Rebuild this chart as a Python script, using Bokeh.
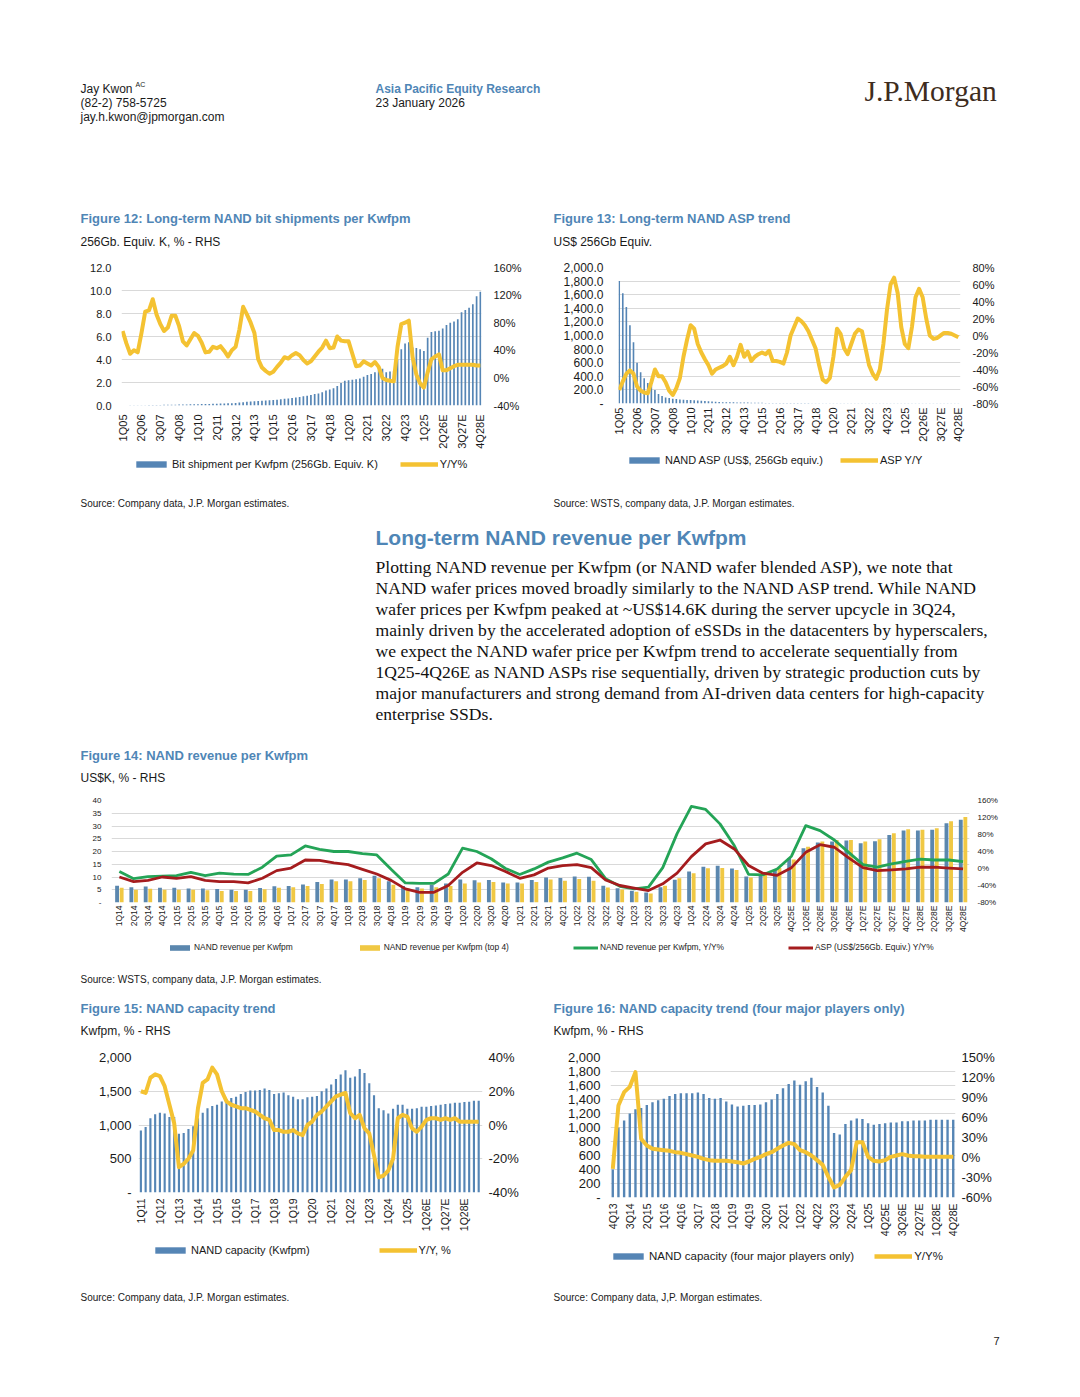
import math
from bokeh.plotting import figure
from bokeh.models import Range1d, LinearAxis, FixedTicker, Legend, LegendItem, Label
from bokeh.layouts import column, row
from bokeh.embed import file_html
from bokeh.resources import INLINE

SANS = "Liberation Sans"
SERIF = "Liberation Serif"
TITLE_BLUE = "#4F86B6"
BAR_BLUE = "#5585B5"
YELLOW = "#F4C232"
GRID = "#D9D9D9"
INK = "#1A1A1A"
F14_BLUE = "#5B87AE"
F14_YELLOW = "#F0C844"
F14_GREEN = "#24A457"
F14_RED = "#A51C1E"
YOY_WIDTH = 4
F14_WIDTH = 2.8


def quarter_labels(first_year, first_q, n):
    out, y, q = [], first_year, first_q
    for _ in range(n):
        est = y > 2025 or (y == 2025 and q == 4)
        out.append(f"{q}Q{y % 100:02d}" + ("E" if est else ""))
        q += 1
        if q == 5:
            q, y = 1, y + 1
    return out


# ---------------- Figure 12 data ----------------
f12_quarters = quarter_labels(2005, 1, 96)
f12_bits = [0.01, 0.01, 0.02, 0.02, 0.02, 0.03, 0.03, 0.04, 0.04, 0.05, 0.05, 0.06,
            0.06, 0.07, 0.07, 0.08, 0.08, 0.09, 0.10, 0.10, 0.11, 0.12, 0.13, 0.14,
            0.15, 0.16, 0.17, 0.18, 0.19, 0.20, 0.22, 0.26, 0.29, 0.32, 0.35, 0.38,
            0.40, 0.42, 0.44, 0.46, 0.48, 0.50, 0.54, 0.58, 0.60, 0.65, 0.70, 0.75,
            0.80, 0.85, 0.92, 1.00, 1.05, 1.15, 1.30, 1.40, 1.50, 1.70, 1.95, 2.15,
            2.20, 2.25, 2.28, 2.35, 2.50, 2.65, 2.75, 2.90, 3.10, 3.20, 2.90, 2.95,
            3.00, 4.00, 4.90, 5.40, 5.50, 5.05, 5.00, 4.90, 4.75, 5.90, 6.40, 6.45,
            6.50, 6.70, 7.00, 7.20, 7.30, 7.50, 8.10, 8.30, 8.50, 8.80, 9.50, 9.90]
f12_yoy = [68, 50, 35, 40, 37, 65, 96, 98, 114, 92, 78, 68, 73, 90, 90, 75, 53, 47, 56, 65,
           61, 51, 37, 38, 45, 43, 46, 39, 31, 40, 45, 70, 103, 92, 80, 65, 27, 15, 10, 6,
           9, 16, 22, 30, 28, 33, 36, 33, 26, 21, 24, 31, 38, 44, 54, 43, 44, 60, 54, 53,
           53, 35, 17, 18, 24, 21, 18, 23, 16, 0, -3, -4, -5, 45, 78, 80, 83, 30, 5, -8,
           -14, 8, 27, 31, 34, 11, 11, 14, 17, 19, 19, 19, 19, 19, 18, 18]
f12_left_ticks = [0, 2, 4, 6, 8, 10, 12]
f12_left_labels = ["0.0", "2.0", "4.0", "6.0", "8.0", "10.0", "12.0"]
f12_right_ticks = [-40, 0, 40, 80, 120, 160]
f12_right_labels = ["-40%", "0%", "40%", "80%", "120%", "160%"]

# ---------------- Figure 13 data ----------------
f13_quarters = quarter_labels(2005, 1, 96)
f13_asp = [1800, 1620, 1420, 1150, 900, 600, 460, 370, 300, 270, 200, 140, 110, 90, 80, 70,
           65, 60, 55, 52, 50, 48, 44, 40, 36, 32, 28, 25, 22, 20, 19, 18, 17, 16, 15, 14,
           13, 12, 11, 10, 10, 9, 9, 8, 7, 7, 6, 6, 6, 6, 6, 6, 6, 6, 5, 5, 4, 4, 3, 3,
           3, 3, 3, 3, 3, 3, 3, 3, 2, 2, 2, 2, 2, 2, 2, 2, 3, 3, 3, 3, 2, 2, 3, 3,
           4, 4, 4, 4, 4, 4, 4, 4, 4, 4, 4, 4]
f13_yoy = [-64, -54, -45, -41, -45, -60, -65, -67, -68, -55, -40, -48, -48, -55, -65, -70, -62, -50, -25, -5,
           12, 8, -10, -20, -28, -35, -45, -40, -38, -36, -33, -25, -35, -25, -11, -25, -19, -30, -25, -22,
           -20, -22, -18, -30, -30, -31, -33, -20, 0, 10, 20, 17, 12, 5, -5, -15, -35, -52, -55, -50,
           -25, 8, 2, -15, -22, -10, 2, 7, 5, -15, -35, -45, -51, -40, -10, 30, 60, 68, 50, 10,
           -10, -15, 10, 45, 55, 45, 20, 0, -4, -3, 0, 3, 3, 2, 0, -2]
f13_left_ticks = [0, 200, 400, 600, 800, 1000, 1200, 1400, 1600, 1800, 2000]
f13_left_labels = ["-", "200.0", "400.0", "600.0", "800.0", "1,000.0", "1,200.0",
                   "1,400.0", "1,600.0", "1,800.0", "2,000.0"]
f13_right_ticks = [-80, -60, -40, -20, 0, 20, 40, 60, 80]
f13_right_labels = ["-80%", "-60%", "-40%", "-20%", "0%", "20%", "40%", "60%", "80%"]

# ---------------- Figure 14 data ----------------
f14_quarters = quarter_labels(2014, 1, 60)
f14_rev = [6.6, 6.0, 6.3, 5.8, 5.8, 5.5, 5.5, 5.3, 5.0, 5.0, 5.7, 6.4, 6.5, 7.1, 8.0, 9.0,
           9.0, 9.5, 10.5, 8.3, 6.5, 6.0, 7.0, 7.5, 9.0, 8.7, 8.8, 7.8, 7.8, 8.8, 9.8, 9.6,
           10.2, 10.1, 6.6, 5.6, 4.6, 3.9, 6.0, 8.9, 12.2, 14.0, 14.4, 13.3, 10.2, 10.5, 12.7, 17.5,
           21.3, 23.5, 23.9, 24.3, 23.2, 24.0, 26.5, 28.2, 28.2, 28.5, 31.1, 32.5]
f14_rev_top4 = [5.8, 5.0, 5.4, 5.0, 5.0, 5.0, 4.8, 4.5, 4.5, 4.5, 5.2, 5.8, 6.0, 6.5, 7.3, 8.3,
                8.3, 8.8, 9.5, 7.0, 5.5, 5.5, 6.0, 6.5, 7.5, 7.8, 8.0, 7.5, 7.5, 8.0, 9.0, 8.5,
                9.2, 8.5, 5.9, 5.1, 4.2, 3.5, 6.6, 9.5, 11.5, 13.4, 13.5, 12.7, 9.8, 11.8, 13.5, 16.9,
                21.9, 23.9, 24.5, 24.5, 23.9, 24.8, 27.2, 28.7, 28.5, 29.1, 31.9, 33.5]
f14_rev_yoy = [-7, -24, -19, -18, -17, -9, -17, -11, -13, -14, 3, 29, 32, 53, 45, 40,
               40, 35, 32, -2, -34, -35, -35, -13, 48, 40, 23, 0, -14, -1, 15, 25,
               36, 21, -24, -42, -48, -44, 2, 82, 146, 139, 105, 54, -14, -15, -1, 29,
               101, 89, 67, 38, 9, 3, 11, 17, 22, 20, 20, 16]
f14_asp_yoy = [-20, -31, -28, -20, -23, -19, -28, -31, -31, -34, -23, -5, 1, 20, 19, 13,
               9, -2, -13, -28, -48, -56, -56, -40, -9, 13, 7, -7, -23, -15, 1, 7,
               9, 2, -27, -40, -46, -52, -36, -11, 28, 58, 67, 46, 7, -11, -16, 2,
               38, 56, 50, 25, 2, -5, -3, -1, 3, 3, 1, -1]
f14_left_ticks = [0, 5, 10, 15, 20, 25, 30, 35, 40]
f14_left_labels = ["-", "5", "10", "15", "20", "25", "30", "35", "40"]
f14_right_ticks = [-80, -40, 0, 40, 80, 120, 160]
f14_right_labels = ["-80%", "-40%", "0%", "40%", "80%", "120%", "160%"]

# ---------------- Figure 15 data ----------------
f15_quarters = quarter_labels(2011, 1, 72)
f15_cap = [920, 970, 1100, 1160, 1180, 1170, 1120, 1120, 870, 880, 940, 980,
           1100, 1180, 1250, 1280, 1300, 1350, 1380, 1400, 1420, 1460, 1490, 1510,
           1510, 1520, 1540, 1520, 1460, 1470, 1480, 1440, 1420, 1380, 1380, 1410,
           1420, 1430, 1500, 1540, 1600, 1680, 1750, 1810, 1700, 1720, 1830, 1770,
           1620, 1440, 1250, 1220, 1170, 1240, 1300, 1300, 1240, 1240, 1250, 1270,
           1270, 1280, 1290, 1300, 1310, 1320, 1330, 1330, 1340, 1345, 1360, 1360]
f15_yoy = [20, 19, 28, 30, 29, 23, 12, 1, -25, -23, -20, -15, 10, 25, 27, 34, 30, 20, 14, 12,
           11, 10, 10, 9, 8, 6, 4, 3, -3, -3, -4, -4, -3, -5, -6, 0, 2, 6, 8, 11,
           14, 17, 18, 19, 7, 4, 6, -2, -5, -18, -31, -30, -27, -20, 4, 6, 5, -2, -4, -1,
           3, 4, 4, 3, 4, 3, 4, 2, 2, 2, 2, 2]
f15_left_ticks = [0, 500, 1000, 1500, 2000]
f15_left_labels = ["-", "500", "1,000", "1,500", "2,000"]
f15_right_ticks = [-40, -20, 0, 20, 40]
f15_right_labels = ["-40%", "-20%", "0%", "20%", "40%"]

# ---------------- Figure 16 data ----------------
f16_quarters = quarter_labels(2013, 4, 61)
f16_cap = [400, 1000, 1100, 1200, 1260, 1280, 1320, 1360, 1390, 1410, 1450, 1480,
           1490, 1490, 1490, 1500, 1480, 1420, 1410, 1420, 1370, 1330, 1300, 1310,
           1320, 1320, 1330, 1360, 1400, 1480, 1560, 1620, 1670, 1610, 1660, 1710,
           1580, 1500, 1310, 920, 900, 1050, 1100, 1130, 1120, 1060, 1040, 1050,
           1060, 1070, 1070, 1090, 1090, 1100, 1100, 1100, 1110, 1110, 1110, 1110, 1110]
f16_yoy = [-17, 78, 98, 106, 128, 28, 18, 13, 12, 11, 10, 8, 7, 5, 3, 1, -2, -4, -5, -5,
           -5, -6, -7, -9, -6, -2, 1, 5, 8, 13, 18, 22, 20, 11, 8, 3, -4, -11, -29, -45,
           -41, -29, -19, 23, 23, 1, -5, -6, -4, 1, 3, 5, 3, 2, 2, 1, 1, 1, 1, 1, 1]
f16_left_ticks = [0, 200, 400, 600, 800, 1000, 1200, 1400, 1600, 1800, 2000]
f16_left_labels = ["-", "200", "400", "600", "800", "1,000", "1,200", "1,400",
                   "1,600", "1,800", "2,000"]
f16_right_ticks = [-60, -30, 0, 30, 60, 90, 120, 150]
f16_right_labels = ["-60%", "-30%", "0%", "30%", "60%", "90%", "120%", "150%"]

# ---------------- page texts ----------------
paragraph_lines = [
    "Plotting NAND revenue per Kwfpm (or NAND wafer blended ASP), we note that",
    "NAND wafer prices moved broadly similarly to the NAND ASP trend. While NAND",
    "wafer prices per Kwfpm peaked at ~US$14.6K during the server upcycle in 3Q24,",
    "mainly driven by the accelerated adoption of eSSDs in the datacenters by hyperscalers,",
    "we expect the NAND wafer price per Kwfpm trend to accelerate sequentially from",
    "1Q25-4Q26E as NAND ASPs rise sequentially, driven by strategic production cuts by",
    "major manufacturers and strong demand from AI-driven data centers for high-capacity",
    "enterprise SSDs.",
]


# ---------------- helpers ----------------
def style_axis(ax, fs, standoff):
    ax.axis_line_color = None
    ax.major_tick_line_color = None
    ax.minor_tick_line_color = None
    ax.major_tick_out = 0
    ax.major_tick_in = 0
    ax.major_label_standoff = standoff
    ax.major_label_text_font = SANS
    ax.major_label_text_font_size = f"{fs}px"
    ax.major_label_text_color = INK


def chart(w, h, borders, xr, yr, yticks, ylabels, y2r, y2ticks, y2labels,
          xticks, xlabels, fs_y, fs_y2, fs_x, stand_l, stand_r, stand_x):
    bl, br, bt, bb = borders
    p = figure(width=w, height=h, x_range=Range1d(*xr), y_range=Range1d(*yr),
               output_backend="svg", toolbar_location=None, frame_align=False,
               min_border_left=bl, min_border_right=br,
               min_border_top=bt, min_border_bottom=bb)
    p.outline_line_color = None
    p.background_fill_color = "white"
    p.border_fill_color = "white"
    p.xgrid.visible = False
    p.ygrid.ticker = FixedTicker(ticks=yticks)
    p.ygrid.grid_line_color = GRID
    p.ygrid.grid_line_width = 1
    p.yaxis.ticker = FixedTicker(ticks=yticks)
    p.yaxis.major_label_overrides = dict(zip(yticks, ylabels))
    style_axis(p.yaxis[0], fs_y, stand_l)
    p.extra_y_ranges = {"pct": Range1d(*y2r)}
    ax2 = LinearAxis(y_range_name="pct", ticker=FixedTicker(ticks=y2ticks),
                     major_label_overrides=dict(zip(y2ticks, y2labels)))
    style_axis(ax2, fs_y2, stand_r)
    p.add_layout(ax2, "right")
    p.xaxis.ticker = FixedTicker(ticks=xticks)
    p.xaxis.major_label_overrides = dict(zip(xticks, xlabels))
    p.xaxis.major_label_orientation = math.pi / 2
    style_axis(p.xaxis[0], fs_x, stand_x)
    return p


def bare_fig(w, h, xr, yr):
    p = figure(width=w, height=h, x_range=Range1d(*xr), y_range=Range1d(*yr),
               output_backend="svg", toolbar_location=None, min_border=0,
               frame_align=False, x_axis_location=None, y_axis_location=None)
    p.grid.visible = False
    p.outline_line_color = None
    return p


def text_band(w, h, top, items):
    p = bare_fig(w, h, (0, w), (h, 0))
    for (x, y, txt, font, size, color, style) in items:
        p.add_layout(Label(x=x, y=y - top, text=txt, text_font=font,
                           text_font_size=f"{size}px", text_color=color,
                           text_font_style=style, text_baseline="middle",
                           text_align="left"))
    return p


def legend_band(w, h, specs):
    """Legend strip: proxy renderers sit outside the visible range, only their legend shows."""
    p = bare_fig(w, h, (0, 1), (0, 1))
    for items, loc, gw, gh, fs, spacing in specs:
        entries = []
        for label, kind, color, lw in items:
            if kind == "bar":
                r = p.vbar(x=[-5], top=[-5], bottom=[-6], width=0.5,
                           fill_color=color, line_color=None)
            else:
                r = p.line(x=[-6, -5], y=[-5, -5], line_color=color, line_width=lw)
            entries.append(LegendItem(label=label, renderers=[r]))
        p.add_layout(Legend(items=entries, orientation="horizontal", location=loc,
                            glyph_width=gw, glyph_height=gh, label_height=int(fs) + 2,
                            label_standoff=2, spacing=spacing, padding=2, margin=0,
                            label_text_font=SANS, label_text_font_size=f"{fs}px",
                            label_text_color=INK, border_line_color=None,
                            background_fill_alpha=0), "center")
    return p


W = 1072
HALF = 536

# ---------------- band 1: header + titles of fig 12/13 (page y 0-255) ----------------
band1 = text_band(W, 255, 0, [
    (80, 88, "Jay Kwon", SANS, 12, INK, "normal"),
    (135, 84, "AC", SANS, 7, INK, "normal"),
    (80, 102, "(82-2) 758-5725", SANS, 12, INK, "normal"),
    (80, 116, "jay.h.kwon@jpmorgan.com", SANS, 12, INK, "normal"),
    (375, 88, "Asia Pacific Equity Research", SANS, 12, TITLE_BLUE, "bold"),
    (375, 102, "23 January 2026", SANS, 12, INK, "normal"),
    (864, 90, "J.P.Morgan", SERIF, 29.5, "#3E2C20", "normal"),
    (80, 218, "Figure 12: Long-term NAND bit shipments per Kwfpm", SANS, 13, TITLE_BLUE, "bold"),
    (80, 241, "256Gb. Equiv. K, % - RHS", SANS, 12, INK, "normal"),
    (553, 218, "Figure 13: Long-term NAND ASP trend", SANS, 13, TITLE_BLUE, "bold"),
    (553, 241, "US$ 256Gb Equiv.", SANS, 12, INK, "normal"),
])

# ---------------- band 2: fig 12 and fig 13 (page y 255-452) ----------------
x12 = list(range(len(f12_quarters)))
t12 = x12[::5]
p12 = chart(HALF, 197, (121, 55, 12, 47), (-0.3, 95.3), (0, 12),
            f12_left_ticks, f12_left_labels, (-40, 160), f12_right_ticks, f12_right_labels,
            t12, [f12_quarters[i] for i in t12], 11, 11, 11, 10, 12, 9)
p12.vbar(x=x12, top=f12_bits, width=0.45, fill_color=BAR_BLUE, line_color=None)
p12.line(x=x12, y=f12_yoy, y_range_name="pct", line_color=YELLOW, line_width=YOY_WIDTH,
         line_join="round")

x13 = list(range(len(f13_quarters)))
t13 = x13[::5]
p13 = chart(HALF, 197, (82, 112, 12, 49), (-0.2, 95.6), (0, 2000),
            f13_left_ticks, f13_left_labels, (-80, 80), f13_right_ticks, f13_right_labels,
            t13, [f13_quarters[i] for i in t13], 12, 11, 11, 15, 12, 4)
p13.vbar(x=x13, top=f13_asp, width=0.45, fill_color=BAR_BLUE, line_color=None)
p13.line(x=x13, y=f13_yoy, y_range_name="pct", line_color=YELLOW, line_width=YOY_WIDTH,
         line_join="round")

# legends of fig 12/13 (page y 452-475)
leg2 = legend_band(W, 23, [
    ([("Bit shipment per Kwfpm (256Gb. Equiv. K)", "bar", BAR_BLUE, 0),
      ("Y/Y%", "line", YELLOW, 4.5)], (132, 5), 38, 8, 11, 22),
    ([("NAND ASP (US$, 256Gb equiv.)", "bar", BAR_BLUE, 0),
      ("ASP Y/Y", "line", YELLOW, 4.5)], (625, 8.5), 38, 8, 11, 17),
])

# ---------------- band 3: sources, section text, fig 14 title (page y 475-790) ----------------
band3_items = [
    (80, 503, "Source: Company data, J.P. Morgan estimates.", SANS, 10, INK, "normal"),
    (553, 503, "Source: WSTS, company data, J.P. Morgan estimates.", SANS, 10, INK, "normal"),
    (375, 537, "Long-term NAND revenue per Kwfpm", SANS, 21, TITLE_BLUE, "bold"),
    (80, 755, "Figure 14: NAND revenue per Kwfpm", SANS, 13, TITLE_BLUE, "bold"),
    (80, 777, "US$K, % - RHS", SANS, 12, INK, "normal"),
]
for i, line in enumerate(paragraph_lines):
    band3_items.append((375, 566 + 21.1 * i, line, SERIF, 17.6, "#111111", "normal"))
band3 = text_band(W, 315, 475, band3_items)

# ---------------- band 4: fig 14 (page y 790-935) ----------------
x14 = list(range(len(f14_quarters)))
p14 = chart(W, 145, (111, 103, 10, 33), (-0.55, 59.45), (0, 40),
            f14_left_ticks, f14_left_labels, (-80, 160), f14_right_ticks, f14_right_labels,
            x14, f14_quarters, 8, 8, 8.5, 10, 8, 3)
p14.vbar(x=[v - 0.16 for v in x14], top=f14_rev, width=0.27,
         fill_color=F14_BLUE, line_color=None)
p14.vbar(x=[v + 0.16 for v in x14], top=f14_rev_top4, width=0.27,
         fill_color=F14_YELLOW, line_color=None)
p14.line(x=x14, y=f14_rev_yoy, y_range_name="pct", line_color=F14_GREEN,
         line_width=F14_WIDTH, line_join="round")
p14.line(x=x14, y=f14_asp_yoy, y_range_name="pct", line_color=F14_RED,
         line_width=F14_WIDTH, line_join="round")

# legend of fig 14 (page y 935-955)
leg4 = legend_band(W, 20, [
    ([("NAND revenue per Kwfpm", "bar", F14_BLUE, 0),
      ("NAND revenue per Kwfpm (top 4)", "bar", F14_YELLOW, 0),
      ("NAND revenue per Kwfpm, Y/Y%", "line", F14_GREEN, 3),
      ("ASP (US$/256Gb. Equiv.) Y/Y%", "line", F14_RED, 3)], (167, 3), 25, 7, 8.4, 64),
])

# ---------------- band 5: source 14, titles 15/16 (page y 955-1045) ----------------
band5 = text_band(W, 90, 955, [
    (80, 979, "Source: WSTS, company data, J.P. Morgan estimates.", SANS, 10, INK, "normal"),
    (80, 1008, "Figure 15: NAND capacity trend", SANS, 13, TITLE_BLUE, "bold"),
    (80, 1030, "Kwfpm, % - RHS", SANS, 12, INK, "normal"),
    (553, 1008, "Figure 16: NAND capacity trend (four major players only)", SANS, 13, TITLE_BLUE, "bold"),
    (553, 1030, "Kwfpm, % - RHS", SANS, 12, INK, "normal"),
])

# ---------------- band 6: fig 15 and fig 16 (page y 1045-1241) ----------------
x15 = list(range(len(f15_quarters)))
t15 = x15[::4]
p15 = chart(HALF, 196, (138, 54, 12, 49), (-0.5, 71.8), (0, 2000),
            f15_left_ticks, f15_left_labels, (-40, 40), f15_right_ticks, f15_right_labels,
            t15, [f15_quarters[i] for i in t15], 13, 13, 10.5, 7, 6, 6)
p15.vbar(x=x15, top=f15_cap, width=0.45, fill_color=BAR_BLUE, line_color=None)
p15.line(x=x15, y=f15_yoy, y_range_name="pct", line_color=YELLOW, line_width=YOY_WIDTH,
         line_join="round")

x16 = list(range(len(f16_quarters)))
t16 = x16[::3]
p16 = chart(HALF, 196, (74, 117, 12, 44), (-0.4, 60.4), (0, 2000),
            f16_left_ticks, f16_left_labels, (-60, 150), f16_right_ticks, f16_right_labels,
            t16, [f16_quarters[i] for i in t16], 13, 13, 10.5, 10, 6, 6)
p16.vbar(x=x16, top=f16_cap, width=0.42, fill_color=BAR_BLUE, line_color=None)
p16.line(x=x16, y=f16_yoy, y_range_name="pct", line_color=YELLOW, line_width=YOY_WIDTH,
         line_join="round")

# legends of fig 15/16 (page y 1241-1268)
leg6 = legend_band(W, 27, [
    ([("NAND capacity (Kwfpm)", "bar", BAR_BLUE, 0),
      ("Y/Y, %", "line", YELLOW, 4.5)], (151, 11.5), 38, 8, 11, 69),
    ([("NAND capacity (four major players only)", "bar", BAR_BLUE, 0),
      ("Y/Y%", "line", YELLOW, 4.5)], (609, 5.5), 38, 8, 11.5, 20),
])

# ---------------- band 7: sources, page number (page y 1268-1389) ----------------
band7 = text_band(W, 121, 1268, [
    (80, 1297, "Source: Company data, J.P. Morgan estimates.", SANS, 10, INK, "normal"),
    (553, 1297, "Source: Company data, J,P. Morgan estimates.", SANS, 10, INK, "normal"),
    (993, 1340, "7", SANS, 11, INK, "normal"),
])

page = column(band1, row(p12, p13), leg2, band3, p14, leg4, band5,
              row(p15, p16), leg6, band7, spacing=0)

open("out.html", "w").write(file_html(page, INLINE, "NAND charts"))
